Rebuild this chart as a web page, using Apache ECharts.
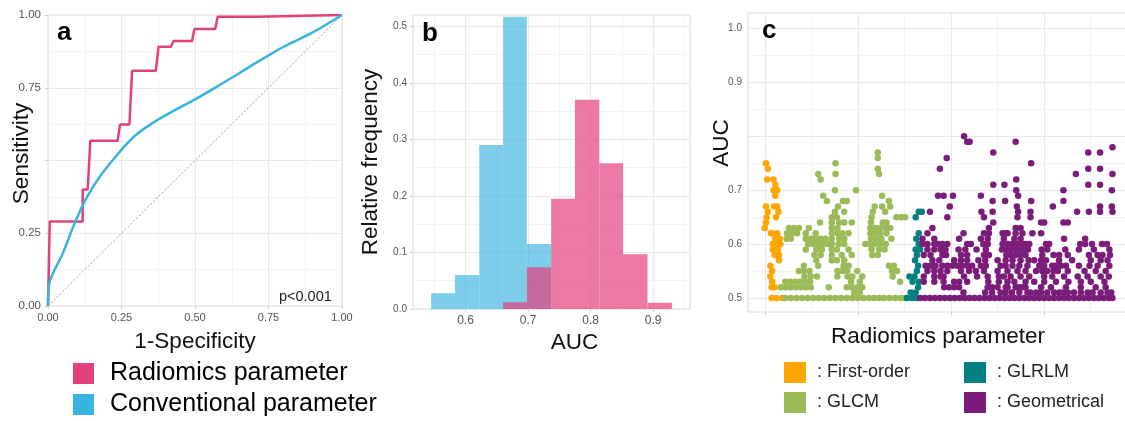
<!DOCTYPE html>
<html>
<head>
<meta charset="utf-8">
<script src="https://cdn.jsdelivr.net/npm/echarts@6/dist/echarts.min.js"></script>
<style>
  html, body { margin: 0; padding: 0; background: #fff; }
  #chart { width: 1125px; height: 421px; }
</style>
</head>
<body>
<div id="chart"></div>
<script>
// ---- a: ROC curves (1-specificity, sensitivity) ----
const rocRadiomics = [
    [0, 0], [0.006, 0.29], [0.118, 0.29], [0.118, 0.40], [0.135, 0.40], [0.144, 0.568],
    [0.237, 0.568], [0.245, 0.624], [0.277, 0.624], [0.286, 0.808], [0.367, 0.808],
    [0.376, 0.891], [0.418, 0.891], [0.427, 0.911], [0.49, 0.911], [0.498, 0.952],
    [0.569, 0.952], [0.577, 0.994], [0.711, 0.994], [0.717, 1], [1, 1]
];
const rocConventional = [
    [0, 0], [0.005, 0.08], [0.05, 0.18], [0.093, 0.29], [0.13, 0.37], [0.18, 0.45],
    [0.24, 0.525], [0.29, 0.58], [0.35, 0.625], [0.43, 0.672], [0.5, 0.71],
    [0.575, 0.754], [0.65, 0.80], [0.72, 0.843], [0.8, 0.89], [0.9, 0.94], [1, 1]
];
const rocChance = [[0, 0], [1, 1]];

// ---- b: AUC histograms (relative frequency) ----
const aucBinEdges = [0.545, 0.583, 0.622, 0.660, 0.698, 0.737, 0.775, 0.814, 0.852, 0.891, 0.930];
const freqConventional = [0.028, 0.060, 0.290, 0.517, 0.115, 0, 0, 0, 0, 0];
const freqRadiomics = [0, 0, 0, 0.012, 0.074, 0.195, 0.370, 0.258, 0.097, 0.011];
const histTicksX = [0.6, 0.7, 0.8, 0.9];
const histMinorX = [0.55, 0.65, 0.75, 0.85, 0.95];
const histTicksY = [0, 0.1, 0.2, 0.3, 0.4, 0.5];
const histMinorY = [0.05, 0.15, 0.25, 0.35, 0.45];

// ---- c: AUC of each radiomics parameter, rows of [AUC, [parameter positions]] ----
const firstOrder = [
    [0.2, 0.75], [0.5, 0.74], [0.4, 0.72], [1.4, 0.72], [1.7, 0.71], [1.4, 0.70], [2.0, 0.70],
    [1.7, 0.69], [0.2, 0.67], [1.5, 0.67], [2.0, 0.67], [0.5, 0.66], [2.2, 0.66], [0.3, 0.65],
    [1.8, 0.65], [0.2, 0.64], [0.0, 0.63], [1.0, 0.62], [1.2, 0.62], [2.0, 0.62], [1.7, 0.61],
    [1.8, 0.61], [2.4, 0.61], [1.3, 0.60], [1.5, 0.60], [2.0, 0.60], [2.5, 0.60], [1.3, 0.59],
    [2.1, 0.59], [1.6, 0.58], [2.3, 0.58], [2.3, 0.57], [0.9, 0.56], [1.2, 0.55], [0.9, 0.54],
    [1.2, 0.53], [1.1, 0.52], [1.6, 0.52], [1.1, 0.50], [1.9, 0.50], [2.8, 0.50]
];
const glcmRows = [
    [0.77, [18.2]], [0.76, [18.2]], [0.75, [11.4]], [0.74, [18.2]],
    [0.73, [8.6, 11.4, 18.4]], [0.72, [9.0]], [0.70, [11.3, 14.7]], [0.69, [9.4, 18.9]],
    [0.68, [10.0, 12.6, 13.2, 20.0]], [0.67, [11.8, 17.7, 18.9, 20.2]],
    [0.66, [11.3, 12.8, 17.4, 19.4]], [0.65, [10.8, 11.6, 17.2, 21.2, 22.0, 22.6]],
    [0.64, [8.9, 10.8, 12.0, 12.8, 14.0, 17.1, 19.0, 19.6]],
    [0.63, [3.9, 4.7, 5.5, 7.1, 10.8, 11.7, 17.0, 17.8, 18.6, 19.5, 20.2]],
    [0.62, [3.6, 4.4, 5.2, 6.6, 8.2, 10.8, 11.7, 12.5, 13.5, 17.0, 17.8, 18.6, 19.6]],
    [0.61, [3.5, 4.2, 6.6, 7.4, 8.2, 9.0, 9.8, 10.8, 12.0, 12.8, 17.1, 18.0, 18.8, 20.4]],
    [0.60, [7.0, 7.8, 8.6, 9.4, 10.2, 10.8, 11.9, 12.8, 16.2, 16.9, 17.7, 18.6, 19.5]],
    [0.59, [6.6, 8.3, 9.2, 10.8, 11.6, 13.5, 17.2, 18.4, 19.3]],
    [0.58, [8.0, 9.0, 10.8, 12.4, 14.0, 17.3, 18.2]],
    [0.57, [8.3, 10.8, 11.6, 12.8]],
    [0.56, [6.3, 8.6, 12.7, 13.5, 20.0, 20.8]],
    [0.55, [5.5, 6.3, 7.2, 11.7, 12.5, 13.3, 14.9, 20.5, 21.3]],
    [0.54, [6.4, 7.4, 8.4, 11.7, 13.3, 14.1, 15.7, 20.6]],
    [0.53, [3.3, 4.1, 4.9, 5.7, 6.5, 7.3, 13.9, 15.3, 21.8]],
    [0.52, [2.6, 3.4, 4.2, 5.0, 5.8, 6.6, 7.4, 10.3, 13.2, 14.0, 14.9, 15.7]],
    [0.51, [14.4, 15.3]],
    [0.50, [3.3, 4.2, 5.1, 6.0, 6.9, 7.8, 8.7, 9.6, 10.5, 11.4, 12.3, 13.2, 14.1, 15.0, 15.9,
            16.8, 17.6, 18.4, 19.2, 20.1, 21.0, 21.9, 22.6]]
];
const glrlmRows = [
    [0.66, [24.8, 25.3]], [0.65, [24.3]], [0.62, [24.8]], [0.61, [24.4]], [0.60, [24.8, 25.3]],
    [0.59, [24.3, 25.0]], [0.58, [24.5]], [0.57, [24.2]], [0.56, [24.7]], [0.55, [24.5]],
    [0.54, [23.3, 24.1]], [0.53, [23.8, 24.8]], [0.52, [24.7]], [0.51, [23.5, 24.3]],
    [0.50, [22.9, 23.7, 24.4]]
];
const geometricalRows = [
    [0.80, [32.1]], [0.79, [32.6, 33.0, 40.4]], [0.78, [56.0]], [0.77, [36.8, 52.1, 54.0]],
    [0.76, [29.3]], [0.75, [42.9]], [0.74, [28.2, 52.1, 54.0]], [0.73, [50.1, 56.0]],
    [0.72, [40.5]], [0.71, [36.8, 38.6, 52.1, 54.0]], [0.70, [40.5, 48.1, 55.9]],
    [0.69, [27.9, 28.8, 30.3, 34.8, 40.8]], [0.68, [36.7, 38.7, 42.9, 48.1]],
    [0.67, [29.8, 40.6, 46.4, 54.0, 55.9]],
    [0.66, [26.6, 34.9, 36.7, 40.8, 42.8, 50.3, 52.2, 54.0, 56.0]],
    [0.65, [29.4, 35.3, 40.7, 42.8]],
    [0.64, [36.8, 44.5, 45.0, 48.1, 48.8]],
    [0.63, [27.0, 36.1, 40.4, 41.2]],
    [0.62, [26.2, 32.0, 35.3, 36.1, 38.3, 38.8, 39.1, 40.4, 41.5, 43.1, 44.5]],
    [0.61, [25.4, 27.3, 31.3, 34.8, 35.9, 38.5, 40.2, 41.2, 48.2, 51.6]],
    [0.60, [25.4, 26.2, 27.3, 27.9, 28.6, 29.4, 32.6, 33.2, 35.2, 35.9, 38.3, 39.1, 39.9, 40.7,
            41.5, 42.0, 42.6, 45.3, 45.8, 50.8, 51.6, 52.7, 54.3, 55.1]],
    [0.59, [26.2, 27.3, 28.3, 29.1, 31.2, 32.3, 34.1, 35.6, 38.2, 38.9, 39.6, 40.3, 41.0, 41.7,
            42.4, 44.6, 45.5, 48.4, 50.6, 53.0, 55.5]],
    [0.58, [25.6, 26.7, 28.6, 29.2, 31.6, 32.6, 35.3, 36.1, 38.9, 39.6, 40.4, 41.2, 42.0, 44.7,
            46.5, 47.4, 48.8, 52.2, 53.6, 54.4, 55.6]],
    [0.57, [27.0, 28.1, 30.5, 31.6, 32.6, 34.4, 35.5, 37.5, 38.8, 39.9, 41.2, 42.5, 43.4, 44.5,
            45.3, 47.4, 49.5, 52.5, 54.1, 55.2]],
    [0.56, [25.9, 26.7, 27.5, 28.6, 29.4, 30.2, 31.0, 31.8, 32.6, 33.4, 34.8, 35.6, 38.0, 38.8,
            39.9, 41.0, 42.3, 44.2, 45.0, 46.3, 46.9, 47.7, 48.5, 50.6, 52.3, 53.6, 55.5]],
    [0.55, [26.2, 27.3, 28.3, 29.4, 31.6, 32.9, 34.0, 35.3, 37.5, 39.1, 40.7, 42.0, 43.7, 44.7,
            45.5, 46.5, 47.2, 48.8, 51.5, 53.3, 54.9]],
    [0.54, [25.6, 27.3, 28.3, 28.8, 32.1, 34.2, 35.9, 37.7, 38.5, 39.6, 41.2, 42.6, 45.0, 46.3,
            48.2, 50.4, 52.0, 54.1, 55.4]],
    [0.53, [25.6, 27.3, 28.8, 30.5, 31.3, 32.6, 36.0, 37.7, 39.1, 40.2, 42.0, 43.4, 45.0, 46.9,
            48.9, 50.9, 52.5, 54.7]],
    [0.52, [28.9, 29.7, 30.5, 31.3, 35.9, 36.6, 37.5, 38.8, 39.1, 40.4, 41.0, 41.5, 42.0, 44.5,
            46.1, 48.5, 50.9, 53.3, 54.9]],
    [0.51, [32.0, 35.5, 36.6, 38.0, 38.8, 39.8, 41.0, 42.3, 42.8, 43.7, 44.5, 45.5, 46.6, 47.4,
            48.0, 48.8, 49.8, 50.9, 52.0, 52.8, 54.1, 55.2, 55.8]],
    [0.50, [25.0, 25.8, 26.6, 27.4, 28.2, 29.0, 29.8, 30.6, 31.4, 32.2, 33.0, 33.8, 34.6, 35.4,
            36.2, 37.0, 37.8, 38.6, 39.4, 40.2, 41.0, 41.8, 42.6, 43.4, 44.2, 45.0, 45.8, 46.6,
            47.4, 48.2, 49.0, 49.8, 50.6, 51.4, 52.2, 53.0, 53.8, 54.6, 55.4, 56.0]]
];
const paramTicksX = [0, 15, 30, 45];
const paramMinorX = [7.5, 22.5, 37.5, 52.5];
const aucTicksY = [0.5, 0.6, 0.7, 0.8, 0.9, 1.0];
const aucLabelsY = [0.5, 0.6, 0.7, 0.9, 1.0];
const aucMinorY = [0.55, 0.65, 0.75, 0.85, 0.95];

const PINK = '#e2407c';
const BLUE = '#38b4de';
const FONT = 'Liberation Sans';

// 把行格式展开成 [x, y] 点
function fromRows(rows) {
    const pts = [];
    rows.forEach(([y, xs]) => xs.forEach(x => pts.push([x, y])));
    return pts;
}

// 直方图的每个柱子: [左边界, 右边界, 频率]
function binsOf(freq) {
    const out = [];
    freq.forEach((f, i) => {
        if (f > 0) out.push([aucBinEdges[i], aucBinEdges[i + 1], f]);
    });
    return out;
}

function renderBin(params, api) {
    const topLeft = api.coord([api.value(0), api.value(2)]);
    const bottomRight = api.coord([api.value(1), 0]);
    return {
        type: 'rect',
        shape: {
            x: topLeft[0], y: topLeft[1],
            width: bottomRight[0] - topLeft[0], height: bottomRight[1] - topLeft[1]
        },
        style: api.style()
    };
}

// 网格线 (主/次)
function gridLines(xs, xsMinor, ys, ysMinor) {
    const major = { color: '#e9e9e9', width: 1, type: 'solid' };
    const minor = { color: '#f4f4f4', width: 1, type: 'solid' };
    const data = [];
    xs.forEach(v => data.push({ xAxis: v, lineStyle: major }));
    xsMinor.forEach(v => data.push({ xAxis: v, lineStyle: minor }));
    ys.forEach(v => data.push({ yAxis: v, lineStyle: major }));
    ysMinor.forEach(v => data.push({ yAxis: v, lineStyle: minor }));
    return { silent: true, z: 1, symbol: ['none', 'none'], label: { show: false }, animation: false, data };
}

const axisNameStyle = { fontSize: 22.5, color: '#111', fontFamily: FONT };
const tickStyle = { show: true, length: 3, lineStyle: { color: '#cfcfcf' } };
const gridBase = { show: true, borderColor: '#dadada', borderWidth: 1, backgroundColor: '#fff', containLabel: false, outerBoundsMode: 'none' };
const panelLetter = { font: 'bold 26px "Liberation Sans"', fill: '#000', verticalAlign: 'middle' };
const dotStyle = { opacity: 1 };

const chart = echarts.init(document.getElementById('chart'));

const option = {
    animation: false,
    backgroundColor: '#fff',
    textStyle: { fontFamily: FONT },
    grid: [
        Object.assign({ left: 48, top: 15, width: 294, height: 291 }, gridBase),
        Object.assign({ left: 413, top: 15, width: 277, height: 294 }, gridBase),
        Object.assign({ left: 748, top: 13, right: -3, height: 299 }, gridBase)
    ],
    xAxis: [
        {
            gridIndex: 0, type: 'value', min: 0, max: 1, interval: 0.25,
            name: '1-Specificity', nameLocation: 'middle', nameGap: 24, nameMoveOverlap: false,
            nameTextStyle: axisNameStyle,
            axisLine: { show: false }, axisTick: tickStyle,
            axisLabel: { fontSize: 11, color: '#555', margin: 6, formatter: v => v.toFixed(2) },
            splitLine: { lineStyle: { color: '#e9e9e9' } },
            minorTick: { show: false, splitNumber: 2 },
            minorSplitLine: { show: true, lineStyle: { color: '#f4f4f4' } }
        },
        {
            gridIndex: 1, type: 'value', min: 0.516, max: 0.959,
            name: 'AUC', nameLocation: 'middle', nameGap: 22, nameMoveOverlap: false,
            nameTextStyle: Object.assign({ padding: [0, 0, 0, 46] }, axisNameStyle),
            axisLine: { show: false },
            axisTick: Object.assign({ customValues: histTicksX }, tickStyle),
            axisLabel: { fontSize: 12, color: '#555', margin: 6, customValues: histTicksX, formatter: v => v.toFixed(1) },
            splitLine: { show: false }
        },
        {
            gridIndex: 2, type: 'value', min: -2.7, max: 58.5,
            name: 'Radiomics parameter', nameLocation: 'middle', nameGap: 13, nameMoveOverlap: false,
            nameTextStyle: axisNameStyle,
            axisLine: { show: false },
            axisTick: Object.assign({ customValues: paramTicksX }, tickStyle),
            axisLabel: { show: false },
            splitLine: { show: false }
        }
    ],
    yAxis: [
        {
            gridIndex: 0, type: 'value', min: 0, max: 1, interval: 0.25,
            name: 'Sensitivity', nameLocation: 'middle', nameGap: 15, nameMoveOverlap: false,
            nameTextStyle: Object.assign({ padding: [0, 0, 0, 14] }, axisNameStyle),
            axisLine: { show: false }, axisTick: tickStyle,
            axisLabel: { fontSize: 11.5, color: '#555', margin: 7, formatter: v => (v === 0.5 ? '' : v.toFixed(2)) },
            splitLine: { lineStyle: { color: '#e9e9e9' } },
            minorTick: { show: false, splitNumber: 2 },
            minorSplitLine: { show: true, lineStyle: { color: '#f4f4f4' } }
        },
        {
            gridIndex: 1, type: 'value', min: 0, max: 0.52,
            name: 'Relative frequency', nameLocation: 'middle', nameGap: 31, nameMoveOverlap: false,
            nameTextStyle: axisNameStyle,
            axisLine: { show: false },
            axisTick: Object.assign({ customValues: histTicksY }, tickStyle),
            axisLabel: { fontSize: 10, color: '#555', margin: 6, customValues: histTicksY, formatter: v => v.toFixed(1) },
            splitLine: { show: false }
        },
        {
            gridIndex: 2, type: 'value', min: 0.474, max: 1.029,
            name: 'AUC', nameLocation: 'middle', nameGap: 15, nameMoveOverlap: false,
            nameTextStyle: Object.assign({ padding: [0, 0, 0, 39] }, axisNameStyle),
            axisLine: { show: false },
            axisTick: Object.assign({ customValues: aucTicksY }, tickStyle),
            axisLabel: { fontSize: 10, color: '#555', margin: 6, customValues: aucLabelsY, formatter: v => v.toFixed(1) },
            splitLine: { show: false }
        }
    ],
    legend: [
        {
            data: ['Radiomics parameter', 'Conventional parameter'],
            orient: 'vertical', left: 73, top: 361, width: 400, height: 100, padding: 0,
            itemWidth: 21, itemHeight: 21, itemGap: 6,
            icon: 'rect', selectedMode: false,
            textStyle: { fontSize: 25, lineHeight: 25, color: '#000', fontFamily: FONT, padding: [0, 0, 0, 11] }
        },
        {
            data: ['First-order', 'GLCM'],
            orient: 'vertical', left: 784, top: 362, width: 170, height: 100, padding: 0,
            itemWidth: 22, itemHeight: 21, itemGap: 9,
            icon: 'rect', selectedMode: false, formatter: ': {name}',
            itemStyle: { opacity: 1 },
            textStyle: { fontSize: 18, lineHeight: 18, color: '#222', fontFamily: FONT, padding: [0, 0, 0, 6] }
        },
        {
            data: ['GLRLM', 'Geometrical'],
            orient: 'vertical', left: 964, top: 362, width: 160, height: 100, padding: 0,
            itemWidth: 22, itemHeight: 21, itemGap: 9,
            icon: 'rect', selectedMode: false, formatter: ': {name}',
            itemStyle: { opacity: 1 },
            textStyle: { fontSize: 18, lineHeight: 18, color: '#222', fontFamily: FONT, padding: [0, 0, 0, 6] }
        }
    ],
    graphic: [
        { type: 'text', x: 57, y: 33, z: 100, style: Object.assign({ text: 'a' }, panelLetter) },
        { type: 'text', x: 422, y: 34, z: 100, style: Object.assign({ text: 'b' }, panelLetter) },
        { type: 'text', x: 762, y: 31, z: 100, style: Object.assign({ text: 'c' }, panelLetter) },
        { type: 'text', x: 279, y: 297, z: 100, style: { text: 'p<0.001', font: '14.5px "Liberation Sans"', fill: '#222', verticalAlign: 'middle' } }
    ],
    series: [
        {
            name: 'chance', type: 'line', xAxisIndex: 0, yAxisIndex: 0, data: rocChance,
            symbol: 'none', z: 1, silent: true,
            lineStyle: { color: '#9a9a9a', width: 1, type: [2, 2] }
        },
        {
            name: 'Radiomics parameter', type: 'line', xAxisIndex: 0, yAxisIndex: 0, data: rocRadiomics,
            symbol: 'none', color: PINK, lineStyle: { color: PINK, width: 2.5 }
        },
        {
            name: 'Conventional parameter', type: 'line', xAxisIndex: 0, yAxisIndex: 0, data: rocConventional,
            symbol: 'none', smooth: 0.3, color: BLUE, lineStyle: { color: BLUE, width: 2.5 }
        },
        {
            name: 'Conventional parameter', type: 'custom', xAxisIndex: 1, yAxisIndex: 1,
            data: binsOf(freqConventional), renderItem: renderBin, encode: { x: [0, 1], y: 2 },
            color: BLUE, itemStyle: { opacity: 0.65 }, z: 2,
            markLine: gridLines(histTicksX, histMinorX, histTicksY, histMinorY)
        },
        {
            name: 'Radiomics parameter', type: 'custom', xAxisIndex: 1, yAxisIndex: 1,
            data: binsOf(freqRadiomics), renderItem: renderBin, encode: { x: [0, 1], y: 2 },
            color: PINK, itemStyle: { opacity: 0.7 }, z: 3
        },
        {
            name: 'First-order', type: 'scatter', xAxisIndex: 2, yAxisIndex: 2, data: firstOrder,
            symbolSize: 6.5, color: '#ffa500', itemStyle: dotStyle, z: 3,
            markLine: gridLines(paramTicksX, paramMinorX, aucTicksY, aucMinorY)
        },
        {
            name: 'GLCM', type: 'scatter', xAxisIndex: 2, yAxisIndex: 2, data: fromRows(glcmRows),
            symbolSize: 6.5, color: '#9bbb59', itemStyle: dotStyle, z: 3
        },
        {
            name: 'GLRLM', type: 'scatter', xAxisIndex: 2, yAxisIndex: 2, data: fromRows(glrlmRows),
            symbolSize: 6.5, color: '#008080', itemStyle: dotStyle, z: 3
        },
        {
            name: 'Geometrical', type: 'scatter', xAxisIndex: 2, yAxisIndex: 2, data: fromRows(geometricalRows),
            symbolSize: 6.5, color: '#7b1c7a', itemStyle: dotStyle, z: 3
        }
    ]
};

chart.setOption(option);
window.addEventListener('resize', () => chart.resize());
</script>
</body>
</html>
